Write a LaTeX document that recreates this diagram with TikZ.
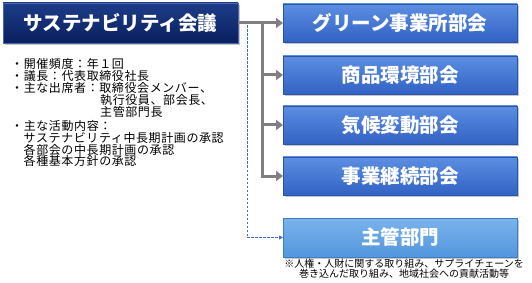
\documentclass[tikz,border=0pt]{standalone}
\usepackage{fontspec}
\newfontfamily\jp{Noto Sans CJK JP}
\newfontfamily\jpsp[LetterSpace=5]{Noto Sans CJK JP}
\usetikzlibrary{shadows,arrows.meta}
\definecolor{navyTop}{HTML}{1D3C88}
\definecolor{navyBot}{HTML}{0A205E}
\definecolor{navyEdge}{HTML}{4A68A8}
\definecolor{blueTop}{HTML}{5C8EE2}
\definecolor{blueBot}{HTML}{3262C4}
\definecolor{blueEdge}{HTML}{2A52A6}
\definecolor{ltTop}{HTML}{7AB3EC}
\definecolor{ltBot}{HTML}{5396DD}
\definecolor{ltEdge}{HTML}{3F7EC6}
\definecolor{conn}{HTML}{7F7F7F}
\definecolor{dotc}{HTML}{3F6FD0}
\tikzset{
  boxbase/.style={anchor=north west, inner sep=0pt, outer sep=0pt, rectangle,
    text=white, font=\jp\bfseries,
    drop shadow={shadow xshift=1.5pt, shadow yshift=-1.8pt, opacity=0.45}},
  titlebox/.style={boxbase, minimum width=235pt, minimum height=40pt,
    top color=navyTop, bottom color=navyBot, draw=navyEdge, line width=0.8pt,
    font=\jp\bfseries\fontsize{19.5}{24}\selectfont},
  bluebox/.style={boxbase, minimum width=234pt, minimum height=38pt,
    top color=blueTop, bottom color=blueBot, draw=blueEdge, line width=0.6pt,
    font=\jp\bfseries\fontsize{19.5}{23}\selectfont},
  ltbox/.style={boxbase, minimum width=234pt, minimum height=39pt,
    top color=ltTop, bottom color=ltBot, draw=ltEdge, line width=0.6pt,
    font=\jp\bfseries\fontsize{19.5}{23}\selectfont},
  listline/.style={anchor=west, inner sep=0pt, font=\jpsp\fontsize{12}{12}\selectfont},
  grayarrow/.style={draw=conn, line width=3pt, -{Triangle[length=7pt,width=10pt]}},
  grayline/.style={draw=conn, line width=3pt},
  dotline/.style={draw=dotc, line width=1pt, dash pattern=on 2.5pt off 1.5pt, -{Triangle[length=4pt,width=4pt]}},
}
\begin{document}
\begin{tikzpicture}[x=1pt,y=-1pt]
\useasboundingbox (0,0) rectangle (532,283);
% boxes
\node[titlebox] (title) at (3,3) {サステナビリティ会議};
\node[bluebox] (b1) at (283,4) {グリーン事業所部会};
\node[bluebox] (b2) at (283,56) {商品環境部会};
\node[bluebox] (b3) at (283,106) {気候変動部会};
\node[bluebox] (b4) at (283,157) {事業継続部会};
\node[ltbox] (b5) at (283,218) {主管部門};
% connectors
\coordinate (j) at (262,23);
\coordinate (d) at (247,25.5);
\draw[dotline] (d) |- (b5.west);
\draw[grayline] (title.east) -- (j);
\draw[grayarrow] (j) -- (b1.west);
\draw[grayarrow] (j) |- (b4.west);
\draw[grayarrow] (j |- b2.west) -- (b2.west);
\draw[grayarrow] (j |- b3.west) -- (b3.west);
% list
\node[listline] (l1) at (11,64) {・開催頻度：年１回};
\node[listline] (l2) at (11,76) {・議長：代表取締役社長};
\node[listline] (l3) at (11,88) {・主な出席者：取締役会メンバー、};
\node[listline] (l4) at (100,100) {執行役員、部会長、};
\node[listline] (l5) at (100,112) {主管部門長};
\node[listline] (l6) at (11,126) {・主な活動内容：};
\node[listline] (l7) at (23.5,138) {サステナビリティ中長期計画の承認};
\node[listline] (l8) at (23.5,149.5) {各部会の中長期計画の承認};
\node[listline] (l9) at (23.5,161) {各種基本方針の承認};
% footnote
\node[inner sep=0pt, align=center, font=\jp\fontsize{10}{10}\selectfont] (fn) at (404,268.5)
  {※人権・人財に関する取り組み、サプライチェーンを\\巻き込んだ取り組み、地域社会への貢献活動等};
\end{tikzpicture}
\end{document}
